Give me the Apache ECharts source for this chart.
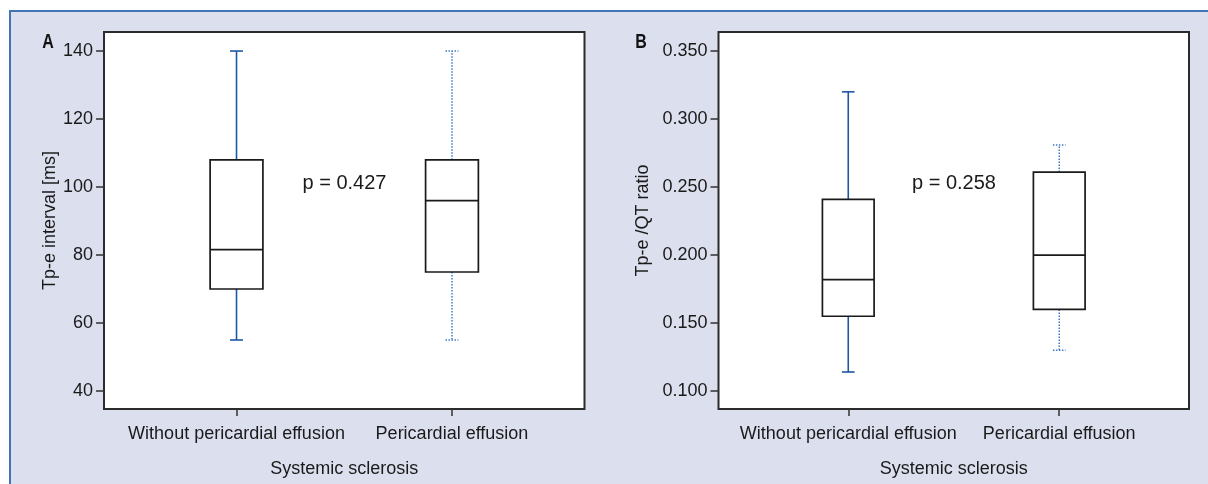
<!DOCTYPE html>
<html>
<head>
<meta charset="utf-8">
<script src="https://cdn.jsdelivr.net/npm/echarts@6/dist/echarts.min.js"></script>
<style>
  html, body { margin: 0; padding: 0; background: #ffffff; }
  #bg { position: absolute; left: 9px; top: 10px; right: 0; bottom: 0;
        background: #dcdfee; border-top: 2px solid #4274b6; border-left: 2px solid #4274b6; }
  #chart { position: absolute; left: 0; top: 0; width: 1208px; height: 484px; }
</style>
</head>
<body>
<div id="bg"></div>
<div id="chart"></div>
<script>
const categories = ['Without pericardial effusion', 'Pericardial effusion'];
// Panel A: Tp-e interval [ms]
const tpeMin    = [55, 55];
const tpeQ1     = [70, 75];
const tpeMedian = [81.6, 96];
const tpeQ3     = [108, 108];
const tpeMax    = [140, 140];
const tpeTicks  = [40, 60, 80, 100, 120, 140];
// Panel B: Tp-e/QT ratio
const ratioMin    = [0.114, 0.130];
const ratioQ1     = [0.155, 0.160];
const ratioMedian = [0.182, 0.200];
const ratioQ3     = [0.241, 0.261];
const ratioMax    = [0.320, 0.281];
const ratioTicks  = [0.100, 0.150, 0.200, 0.250, 0.300, 0.350];
const pTexts = ['p = 0.427', 'p = 0.258'];

const FONT = "'Liberation Sans', Arial, sans-serif";
const FS = 18;

function boxData(mn, q1, md, q3, mx) {
  return categories.map((c, i) => [i, mn[i], q1[i], md[i], q3[i], mx[i]]);
}

function renderBox(params, api) {
  const x = api.value(0);
  const mn = api.value(1), q1 = api.value(2), md = api.value(3), q3 = api.value(4), mx = api.value(5);
  const unit = api.size([1, 0])[0];
  const halfW = unit * 0.1225;
  const capW = unit * 0.03;
  const pMin = api.coord([x, mn]);
  const pQ1 = api.coord([x, q1]);
  const pMd = api.coord([x, md]);
  const pQ3 = api.coord([x, q3]);
  const pMax = api.coord([x, mx]);
  const cx = pMd[0];
  const dotted = params.dataIndex === 1;
  const wStyle = dotted
    ? { stroke: '#3f7cc4', lineWidth: 1.5, lineDash: [1.5, 1.5] }
    : { stroke: '#1d58a4', lineWidth: 1.6 };
  const boxStyle = { stroke: '#1a1a1a', lineWidth: 1.7 };
  return {
    type: 'group',
    children: [
      { type: 'line', shape: { x1: cx, y1: pQ3[1], x2: cx, y2: pMax[1] }, style: wStyle },
      { type: 'line', shape: { x1: cx - capW, y1: pMax[1], x2: cx + capW, y2: pMax[1] }, style: wStyle },
      { type: 'line', shape: { x1: cx, y1: pQ1[1], x2: cx, y2: pMin[1] }, style: wStyle },
      { type: 'line', shape: { x1: cx - capW, y1: pMin[1], x2: cx + capW, y2: pMin[1] }, style: wStyle },
      { type: 'rect', shape: { x: cx - halfW, y: pQ3[1], width: halfW * 2, height: pQ1[1] - pQ3[1] },
        style: { fill: '#ffffff', stroke: '#1a1a1a', lineWidth: 1.7 } },
      { type: 'line', shape: { x1: cx - halfW, y1: pMd[1], x2: cx + halfW, y2: pMd[1] }, style: boxStyle }
    ]
  };
}

function xAxisDef(gridIndex) {
  return {
    type: 'value', gridIndex: gridIndex, min: -0.615, max: 1.615,
    name: 'Systemic sclerosis', nameLocation: 'middle', nameGap: 51,
    nameTextStyle: { fontFamily: FONT, fontSize: FS, color: '#1a1a1a' },
    axisLine: { show: false, onZero: false },
    splitLine: { show: false },
    axisTick: { show: true, customValues: [0, 1], length: 7, lineStyle: { color: '#333', width: 1.5 } },
    axisLabel: { customValues: [0, 1], margin: 16, fontFamily: FONT, fontSize: FS, color: '#1a1a1a',
                 showMinLabel: true, showMaxLabel: true, hideOverlap: false,
                 formatter: v => categories[Math.round(v)] }
  };
}

function yAxisDef(gridIndex, min, max, ticks, name, gap, fmt) {
  return {
    type: 'value', gridIndex: gridIndex, min: min, max: max,
    name: name, nameLocation: 'middle', nameGap: gap, nameRotate: 90,
    nameTextStyle: { fontFamily: FONT, fontSize: FS, color: '#1a1a1a' },
    axisLine: { show: false, onZero: false },
    splitLine: { show: false },
    axisTick: { show: true, customValues: ticks, length: 8, lineStyle: { color: '#333', width: 1.5 } },
    axisLabel: { customValues: ticks, margin: 11, fontFamily: FONT, fontSize: FS, color: '#1a1a1a',
                 showMinLabel: true, showMaxLabel: true, formatter: fmt }
  };
}

const chart = echarts.init(document.getElementById('chart'), null, { renderer: 'canvas' });
chart.setOption({
  animation: false,
  backgroundColor: 'transparent',
  grid: [
    { left: 104, top: 32, width: 480.5, height: 377, show: true, backgroundColor: '#ffffff',
      borderColor: '#2b2b2b', borderWidth: 2 },
    { left: 718.5, top: 32, width: 470.5, height: 377, show: true, backgroundColor: '#ffffff',
      borderColor: '#2b2b2b', borderWidth: 2 }
  ],
  xAxis: [xAxisDef(0), xAxisDef(1)],
  yAxis: [
    yAxisDef(0, 34.7, 145.6, tpeTicks, 'Tp-e interval [ms]', 41, v => String(Math.round(v))),
    yAxisDef(1, 0.0868, 0.364, ratioTicks, 'Tp-e /QT ratio', 66, v => v.toFixed(3))
  ],
  series: [
    { type: 'custom', xAxisIndex: 0, yAxisIndex: 0, renderItem: renderBox,
      data: boxData(tpeMin, tpeQ1, tpeMedian, tpeQ3, tpeMax), encode: { x: 0, y: [1, 2, 3, 4, 5] } },
    { type: 'custom', xAxisIndex: 1, yAxisIndex: 1, renderItem: renderBox,
      data: boxData(ratioMin, ratioQ1, ratioMedian, ratioQ3, ratioMax), encode: { x: 0, y: [1, 2, 3, 4, 5] } }
  ],
  graphic: [
    { type: 'text', x: 48, y: 42, scaleX: 0.8, style: { text: 'A', fontFamily: FONT, fontWeight: 'bold', fontSize: 20,
      fill: '#111', align: 'center', verticalAlign: 'middle' } },
    { type: 'text', x: 641, y: 42, scaleX: 0.8, style: { text: 'B', fontFamily: FONT, fontWeight: 'bold', fontSize: 20,
      fill: '#111', align: 'center', verticalAlign: 'middle' } },
    { type: 'text', x: 344.5, y: 183, z: 100, style: { text: pTexts[0], fontFamily: FONT, fontSize: 20,
      fill: '#1a1a1a', align: 'center', verticalAlign: 'middle' } },
    { type: 'text', x: 954, y: 183.5, z: 100, style: { text: pTexts[1], fontFamily: FONT, fontSize: 20,
      fill: '#1a1a1a', align: 'center', verticalAlign: 'middle' } }
  ]
});
</script>
</body>
</html>
